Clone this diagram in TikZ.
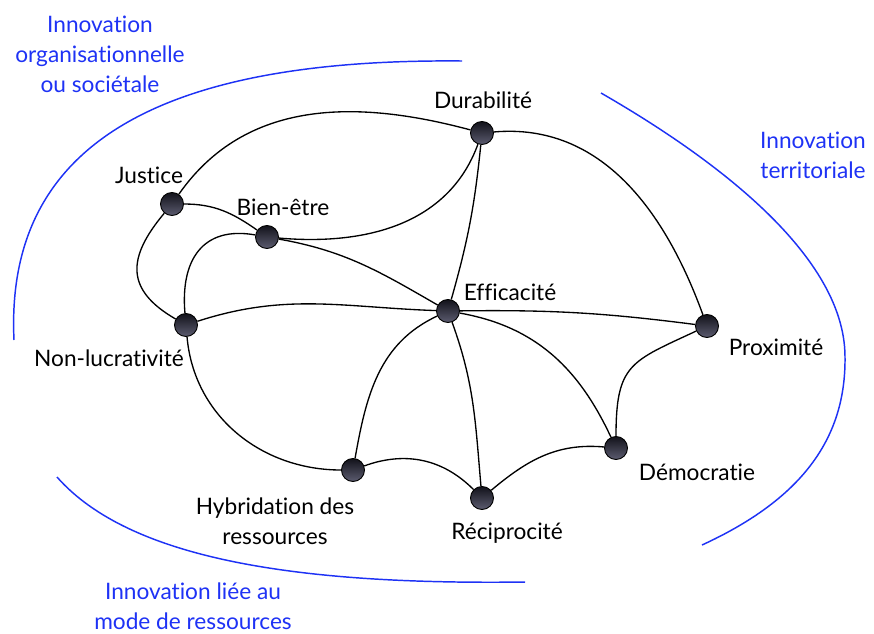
\documentclass[tikz,border=0pt]{standalone}
\usepackage{fontspec}
\setmainfont{Lato}[Ligatures=NoCommon]
\usepackage{tikz}

\definecolor{innoblue}{RGB}{30,50,245}
\definecolor{dottop}{RGB}{18,18,26}
\definecolor{dotbottom}{RGB}{92,92,112}

\begin{document}
\begin{tikzpicture}[x=0.75pt,y=0.75pt,
	dot/.style={circle,draw=black,line width=0.7pt,minimum size=17.25pt,inner sep=0pt,top color=dottop,bottom color=dotbottom},
	word/.style={font=\fontsize{17}{22.5}\selectfont,inner sep=0pt,anchor=base},
	innotext/.style={font=\fontsize{17}{22.5}\selectfont,text=innoblue,align=center,inner sep=0pt},
	innoarc/.style={draw=innoblue,line width=1.1pt},
	link/.style={draw=black,line width=1pt}]
	\useasboundingbox (0,0) rectangle (874,-633);

	%BLUE ARCS
	\draw[innoarc] (14,-340) .. controls (5,-150) and (150,-58) .. (462,-61);		%top left
	\draw[innoarc] (601,-93) .. controls (700,-150) and (845,-250) .. (845,-357)
		.. controls (846,-440) and (800,-500) .. (702,-545);				%right
	\draw[innoarc] (57,-477) .. controls (130,-560) and (300,-585) .. (525,-582);	%bottom
	\node[innotext] (orga) at (100,-54) {Innovation\\organisationnelle\\ou sociétale};
	\node[innotext] (terri) at (813,-155) {Innovation\\territoriale};
	\node[innotext] (mode) at (193,-606) {Innovation liée au\\mode de ressources};

	%DOTS
	\foreach \name/\x/\y in {dur/482/133, jus/172/204, bien/267/237, nonl/186/325, eff/448/311,
		prox/707/326, demo/616/448, hyb/353/470, reci/482/498}{
		\node[dot] (\name) at (\x,-\y) {};
	}

	%LABELS
	\node[word] (tdur) at (483,-108) {Durabilité};
	\node[word] (tjus) at (149,-183) {Justice};
	\node[word] (tbien) at (283,-215) {Bien-être};
	\node[word] (teff) at (510,-300) {Efficacité};
	\node[word] (tnonl) at (109,-366) {Non-lucrativité};
	\node[word] (tprox) at (776,-355) {Proximité};
	\node[word] (tdemo) at (697,-480) {Démocratie};
	\node[word] (treci) at (507,-539) {Réciprocité};
	\node[word,anchor=center,align=center] (thyb) at (275,-521) {Hybridation des\\ressources};

	%LINKS
	\draw[link] (jus) to[out=55,in=165] (dur);
	\draw[link] (jus) to[out=0,in=145] (bien);
	\draw[link] (jus) to[out=230,in=150,looseness=1.4] (nonl);
	\draw[link] (bien) to[out=-5,in=250] (dur);
	\draw[link] (bien) to[out=-10,in=150] (eff);
	\draw[link] (bien) to[out=170,in=95,looseness=1.3] (nonl);
	\draw[link] (nonl) to[out=18,in=178] (eff);
	\draw[link] (nonl) to[out=-85,in=180] (hyb);
	\draw[link] (dur) to[bend left=5] (eff);
	\draw[link] (dur) to[out=5,in=110] (prox);
	\draw[link] (eff) to[bend left=4] (prox);
	\draw[link] (eff) to[out=205,in=80] (hyb);
	\draw[link] (eff) to[out=-70,in=95] (reci);
	\draw[link] (eff) to[out=-10,in=115] (demo);
	\draw[link] (prox) to[out=205,in=90,looseness=1.4] (demo);
	\draw[link] (hyb) to[out=20,in=135] (reci);
	\draw[link] (reci) to[out=40,in=175] (demo);
\end{tikzpicture}
\end{document}
